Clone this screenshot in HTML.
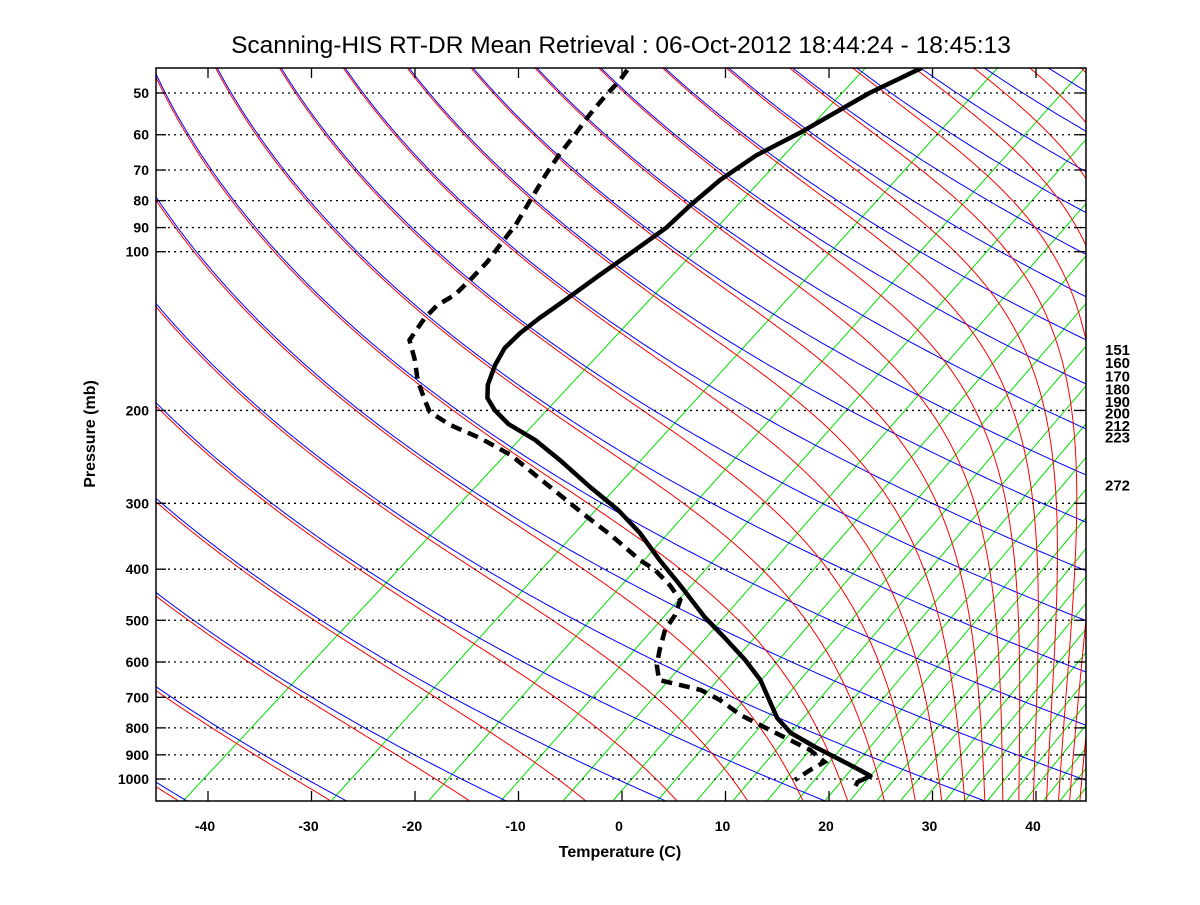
<!DOCTYPE html>
<html><head><meta charset="utf-8"><style>
body{margin:0;background:#fff;}
svg text{font-family:"Liberation Sans",Arial,sans-serif;}
</style></head><body>
<svg id="chart" width="1200" height="900" viewBox="0 0 1200 900" xmlns="http://www.w3.org/2000/svg">
<defs><clipPath id="plotclip"><rect x="156" y="68" width="930" height="733"/></clipPath></defs>
<rect width="1200" height="900" fill="#fff"/>
<text x="621" y="53" font-size="24.5" text-anchor="middle">Scanning-HIS RT-DR Mean Retrieval : 06-Oct-2012 18:44:24 - 18:45:13</text>
<g id="bg" clip-path="url(#plotclip)"></g>
<g id="grid"></g>
<g id="profiles" clip-path="url(#plotclip)"></g>
<rect x="156" y="68" width="930" height="733" fill="none" stroke="#000" stroke-width="1.5"/>
<g id="axes"></g>
<text x="620" y="857" font-size="16" font-weight="bold" text-anchor="middle">Temperature (C)</text>
<text transform="translate(95,434) rotate(-90)" font-size="16" font-weight="bold" text-anchor="middle">Pressure (mb)</text>
<g id="rightlabels"></g>
</svg>
<script>
// ---- data ----
const pressureLevels=[50,60,70,80,90,100,200,300,400,500,600,700,800,900,1000];
const tempTicks=[-40,-30,-20,-10,0,10,20,30,40];
const thetaValues=[];for(let t=150;t<=660;t+=15)thetaValues.push(t);
const mixBottomT=[-42.4,-28.1,-18.7,-11.7,-5.7,-0.9,3.4,7.2,10.7,14.0,16.9,19.6,22.0,24.6,26.9,29.1,31.2,33.1,35.3,37.2,38.9,40.7,42.3,43.8];
const rightLabels=["151","160","170","180","190","200","212","223","272"];
const rightLabelP=[137,145,154,163,172,181,191,201,248];
const tempP=[44.8,50.0,59.5,65.6,73.1,81.5,90.2,99.3,110.7,123.4,133.6,142.6,152.3,164.0,178.9,189.4,199.6,212.2,227.6,248.4,279.4,308.9,341.6,384.4,428.7,493.0,540.3,594.5,649.0,714.5,766.2,818.0,869.4,920.4,961.4,987.0,1013.2,1031.0];
const tempT=[-63.0,-64.9,-66.6,-68.0,-68.4,-68.1,-67.6,-67.8,-68.1,-68.3,-68.5,-68.5,-68.1,-66.9,-65.1,-63.5,-61.3,-58.2,-53.6,-48.7,-42.4,-36.8,-31.8,-26.5,-21.4,-15.0,-10.4,-5.7,-1.7,2.0,4.7,7.9,12.0,16.1,19.2,21.0,20.5,20.8];
const dewP=[45.2,47.3,50.9,55.0,60.1,65.6,71.5,79.8,89.0,97.1,104.6,113.1,120.8,126.2,133.6,147.1,160.4,175.1,191.1,201.4,213.1,225.6,242.9,265.1,289.3,315.7,344.4,384.4,401.4,428.7,457.5,488.7,521.6,569.4,607.7,649.0,663.5,678.0,708.2,756.5,807.4,843.6,881.1,928.4,961.4,1004.4];
const dewT=[-91.2,-90.6,-90.0,-89.2,-88.1,-87.1,-85.9,-84.2,-82.5,-81.5,-80.6,-80.0,-79.6,-80.0,-79.6,-78.3,-75.3,-72.5,-69.3,-67.3,-63.7,-59.2,-54.1,-49.2,-44.3,-39.4,-34.4,-28.4,-25.7,-22.4,-19.5,-18.1,-17.2,-15.2,-13.6,-11.5,-8.8,-6.2,-3.1,0.8,5.5,8.7,11.9,14.8,14.4,14.2];

// ---- axis functions ----
const X0=622,SX=10.35,K=1.3,YB=800;
function yOf(p){return 779+229*Math.log(p/1000);}
function xOf(T,p){return X0+SX*T+K*(YB-yOf(p));}
const NS="http://www.w3.org/2000/svg";
function mk(tag,attrs,parent){const e=document.createElementNS(NS,tag);for(const k in attrs)e.setAttribute(k,attrs[k]);parent.appendChild(e);return e;}
function pathD(pts){return pts.map((q,i)=>(i?'L':'M')+q[0].toFixed(1)+' '+q[1].toFixed(1)).join(' ');}
const bg=document.getElementById('bg'),grid=document.getElementById('grid'),axes=document.getElementById('axes'),prof=document.getElementById('profiles');

// green mixing-ratio lines
mixBottomT.forEach(T=>{
  const x0=X0+SX*T, s=0.93-0.0015*(T+42);
  const l=mk('line',{x1:x0,y1:801,x2:x0+s*740,y2:61,stroke:'#00e000','stroke-width':1},bg);
  
  
});
// dry adiabats (blue)
const plist=[];for(let lp=Math.log(40);lp<=Math.log(1120);lp+=0.01)plist.push(Math.exp(lp));
thetaValues.forEach(th=>{
  const pts=plist.map(p=>[xOf(th*Math.pow(p/1000,0.2857)-273.15,p),yOf(p)]);
  const e=mk('path',{d:pathD(pts),fill:'none',stroke:'#0000ff','stroke-width':1},bg);
  
  
});
// moist adiabats (red)
function es(Tc){return 6.112*Math.exp(17.67*Tc/(Tc+243.5));}
thetaValues.forEach(th=>{
  let p=5,T=th*Math.pow(p/1000,0.2857);const pts=[];
  const Rd=287.04,cp=1005.7,L=2.5e6,eps=0.622;
  while(p<1120){
    if(p>=40)pts.push([xOf(T-273.15,p),yOf(p)]);
    const dlp=0.005,p2=p*Math.exp(dlp);
    const e=Math.min(es(T-273.15),p*0.5),rs=eps*e/(p-e);
    const dTdlnp=(Rd*T+L*rs)/(cp+L*L*rs*eps/(Rd*T*T));
    T+=dTdlnp*dlp;p=p2;
  }
  const e=mk('path',{d:pathD(pts),fill:'none',stroke:'#ff0000','stroke-width':1},bg);
  
  
});
// pressure grid, labels, ticks
pressureLevels.forEach(p=>{
  const y=yOf(p);
  const g=mk('line',{x1:156,y1:y,x2:1086,y2:y,stroke:'#000','stroke-width':1.3,'stroke-dasharray':'2,4'},grid);
  
  
  mk('line',{x1:156,y1:y,x2:166,y2:y,stroke:'#000','stroke-width':1.3},axes);
  mk('line',{x1:1076,y1:y,x2:1086,y2:y,stroke:'#000','stroke-width':1.3},axes);
  const t=mk('text',{x:149,y:y+5,'font-size':14,'font-weight':'bold','text-anchor':'end'},axes);
  t.textContent=p;
  
  
});
tempTicks.forEach(T=>{
  const x=X0+SX*T;
  mk('line',{x1:x,y1:801,x2:x,y2:791,stroke:'#000','stroke-width':1.3},axes);
  mk('line',{x1:x,y1:68,x2:x,y2:78,stroke:'#000','stroke-width':1.3},axes);
  const t=mk('text',{x:x-3,y:831,'font-size':14,'font-weight':'bold','text-anchor':'middle'},axes);
  t.textContent=T;
  
  
});
// right labels
const rl=document.getElementById('rightlabels');
rightLabels.forEach((s,i)=>{
  const t=mk('text',{x:1105,y:yOf(rightLabelP[i])+31,'font-size':15,'font-weight':'bold'},rl);
  t.textContent=s;
  
  
});
// profiles
const tp=tempP.map((p,i)=>[xOf(tempT[i],p),yOf(p)]);
const tl=mk('path',{d:pathD(tp),fill:'none',stroke:'#000','stroke-width':4.5,'stroke-linejoin':'round'},prof);


const dp=dewP.map((p,i)=>[xOf(dewT[i],p),yOf(p)]);
const dl=mk('path',{d:pathD(dp),fill:'none',stroke:'#000','stroke-width':4.5,'stroke-dasharray':'11,7'},prof);


</script>
</body></html>
